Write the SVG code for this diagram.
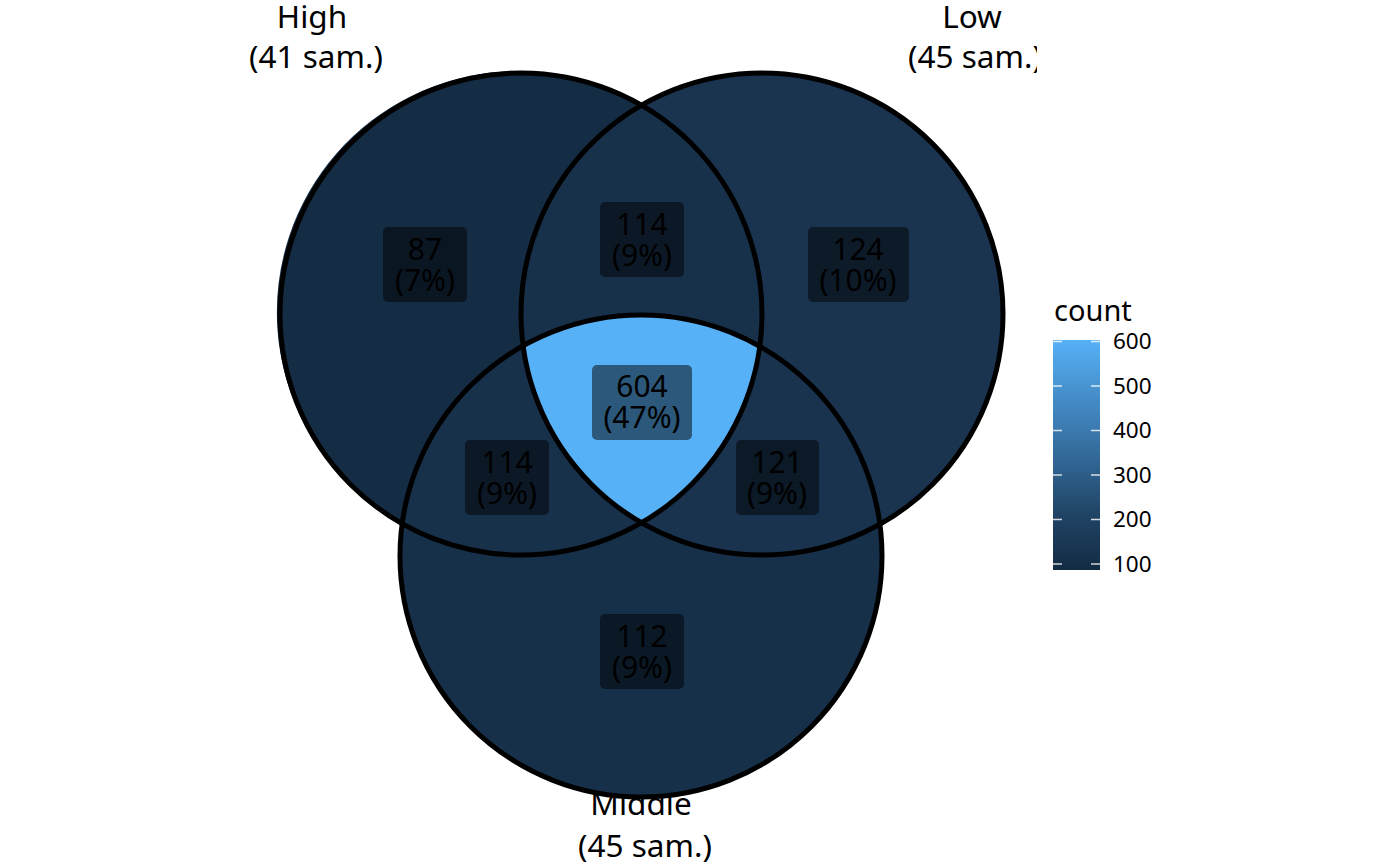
<svg xmlns="http://www.w3.org/2000/svg" width="1400" height="866" viewBox="0 0 1400 866">
  <defs>
    <style>
      text { font-family: "Noto Sans", "Open Sans", "DejaVu Sans", sans-serif; fill: #000; }
      .set-title { font-size: 31.5px; text-anchor: middle; }
      .count { font-size: 30px; text-anchor: middle; }
      .label-box { fill: #000; fill-opacity: 0.5; }
      .outline { fill: none; stroke: #000; stroke-width: 5; }
      .legend-title { font-size: 29px; }
      .tick-label { font-size: 22.5px; }
      .tick { stroke: #ffffff; stroke-opacity: 0.8; stroke-width: 1.5; }
    </style>
    <clipPath id="panel-clip">
      <rect x="0" y="0" width="1037" height="866"/>
    </clipPath>
    <linearGradient id="count-scale" x1="0" y1="1" x2="0" y2="0">
      <stop offset="0" stop-color="#132B43"/>
      <stop offset="0.25" stop-color="#214567"/>
      <stop offset="0.5" stop-color="#336A9A"/>
      <stop offset="0.75" stop-color="#448DC8"/>
      <stop offset="1" stop-color="#56B1F7"/>
    </linearGradient>
  </defs>

  <rect x="0" y="0" width="1400" height="866" fill="#ffffff"/>

  <!-- set titles (drawn beneath the regions, clipped to the panel) -->
  <g id="titles" clip-path="url(#panel-clip)">
    <g id="title-high">
      <text class="set-title" x="312" y="28">High</text>
      <text class="set-title" x="316" y="68">(41 sam.)</text>
    </g>
    <g id="title-low">
      <text class="set-title" x="972" y="28">Low</text>
      <text class="set-title" x="975" y="68">(45 sam.)</text>
    </g>
    <g id="title-middle">
      <text class="set-title" x="641" y="815">Middle</text>
      <text class="set-title" x="645" y="857">(45 sam.)</text>
    </g>
  </g>

  <!-- regions: A=High (521,314), B=Low (762,314), C=Middle (641,556), r=241 -->
  <g id="regions">
    <path id="region-high" fill="#142C44"
      d="M641.5,105.3 A241,241 0 1 0 402.2,523.6 A241,241 0 0 1 523.1,345.8 A241,241 0 0 1 641.5,105.3 Z"/>
    <path id="region-low" fill="#1A3450"
      d="M641.5,105.3 A241,241 0 1 1 879.9,524.2 A241,241 0 0 0 759.8,346.4 A241,241 0 0 0 641.5,105.3 Z"/>
    <path id="region-middle" fill="#17304A"
      d="M402.2,523.6 A241,241 0 1 0 879.9,524.2 A241,241 0 0 1 641.5,522.7 A241,241 0 0 1 402.2,523.6 Z"/>
    <path id="region-high-low" fill="#18314B"
      d="M641.5,105.3 A241,241 0 0 0 523.1,345.8 A241,241 0 0 1 759.8,346.4 A241,241 0 0 0 641.5,105.3 Z"/>
    <path id="region-high-middle" fill="#18314B"
      d="M402.2,523.6 A241,241 0 0 1 523.1,345.8 A241,241 0 0 0 641.5,522.7 A241,241 0 0 1 402.2,523.6 Z"/>
    <path id="region-low-middle" fill="#19334E"
      d="M879.9,524.2 A241,241 0 0 0 759.8,346.4 A241,241 0 0 1 641.5,522.7 A241,241 0 0 0 879.9,524.2 Z"/>
    <path id="region-all" fill="#56B1F7"
      d="M523.1,345.8 A241,241 0 0 1 759.8,346.4 A241,241 0 0 1 641.5,522.7 A241,241 0 0 1 523.1,345.8 Z"/>
  </g>

  <!-- set outlines -->
  <g id="set-outlines">
    <circle id="outline-high" class="outline" cx="521" cy="314" r="241"/>
    <circle id="outline-low" class="outline" cx="762" cy="314" r="241"/>
    <circle id="outline-middle" class="outline" cx="641" cy="556" r="241"/>
  </g>

  <!-- region counts -->
  <g id="count-high">
    <rect class="label-box" x="383" y="227" width="84" height="75" rx="5"/>
    <text class="count" x="425" y="260">87</text>
    <text class="count" x="425" y="291">(7%)</text>
  </g>
  <g id="count-high-low">
    <rect class="label-box" x="600" y="202" width="84" height="75" rx="5"/>
    <text class="count" x="642" y="235">114</text>
    <text class="count" x="642" y="266">(9%)</text>
  </g>
  <g id="count-low">
    <rect class="label-box" x="808" y="227" width="101" height="75" rx="5"/>
    <text class="count" x="858" y="260">124</text>
    <text class="count" x="858" y="291">(10%)</text>
  </g>
  <g id="count-all">
    <rect class="label-box" x="592" y="365" width="100" height="75" rx="5"/>
    <text class="count" x="642" y="397">604</text>
    <text class="count" x="642" y="428">(47%)</text>
  </g>
  <g id="count-high-middle">
    <rect class="label-box" x="465" y="440" width="84" height="75" rx="5"/>
    <text class="count" x="507" y="473">114</text>
    <text class="count" x="507" y="504">(9%)</text>
  </g>
  <g id="count-low-middle">
    <rect class="label-box" x="736" y="440" width="83" height="75" rx="5"/>
    <text class="count" x="777" y="473">121</text>
    <text class="count" x="777" y="504">(9%)</text>
  </g>
  <g id="count-middle">
    <rect class="label-box" x="600" y="614" width="84" height="75" rx="5"/>
    <text class="count" x="642" y="647">112</text>
    <text class="count" x="642" y="678">(9%)</text>
  </g>

  <!-- colour bar legend -->
  <g id="legend">
    <text class="legend-title" x="1054" y="321">count</text>
    <rect x="1053" y="340" width="47" height="230" fill="url(#count-scale)"/>
    <g id="legend-ticks">
      <line class="tick" x1="1053" y1="341.5" x2="1062" y2="341.5"/><line class="tick" x1="1091" y1="341.5" x2="1100" y2="341.5"/>
      <line class="tick" x1="1053" y1="386" x2="1062" y2="386"/><line class="tick" x1="1091" y1="386" x2="1100" y2="386"/>
      <line class="tick" x1="1053" y1="430.5" x2="1062" y2="430.5"/><line class="tick" x1="1091" y1="430.5" x2="1100" y2="430.5"/>
      <line class="tick" x1="1053" y1="475" x2="1062" y2="475"/><line class="tick" x1="1091" y1="475" x2="1100" y2="475"/>
      <line class="tick" x1="1053" y1="519.5" x2="1062" y2="519.5"/><line class="tick" x1="1091" y1="519.5" x2="1100" y2="519.5"/>
      <line class="tick" x1="1053" y1="564" x2="1062" y2="564"/><line class="tick" x1="1091" y1="564" x2="1100" y2="564"/>
    </g>
    <text class="tick-label" x="1113" y="349">600</text>
    <text class="tick-label" x="1113" y="394">500</text>
    <text class="tick-label" x="1113" y="438">400</text>
    <text class="tick-label" x="1113" y="483">300</text>
    <text class="tick-label" x="1113" y="527">200</text>
    <text class="tick-label" x="1113" y="572">100</text>
  </g>
</svg>
